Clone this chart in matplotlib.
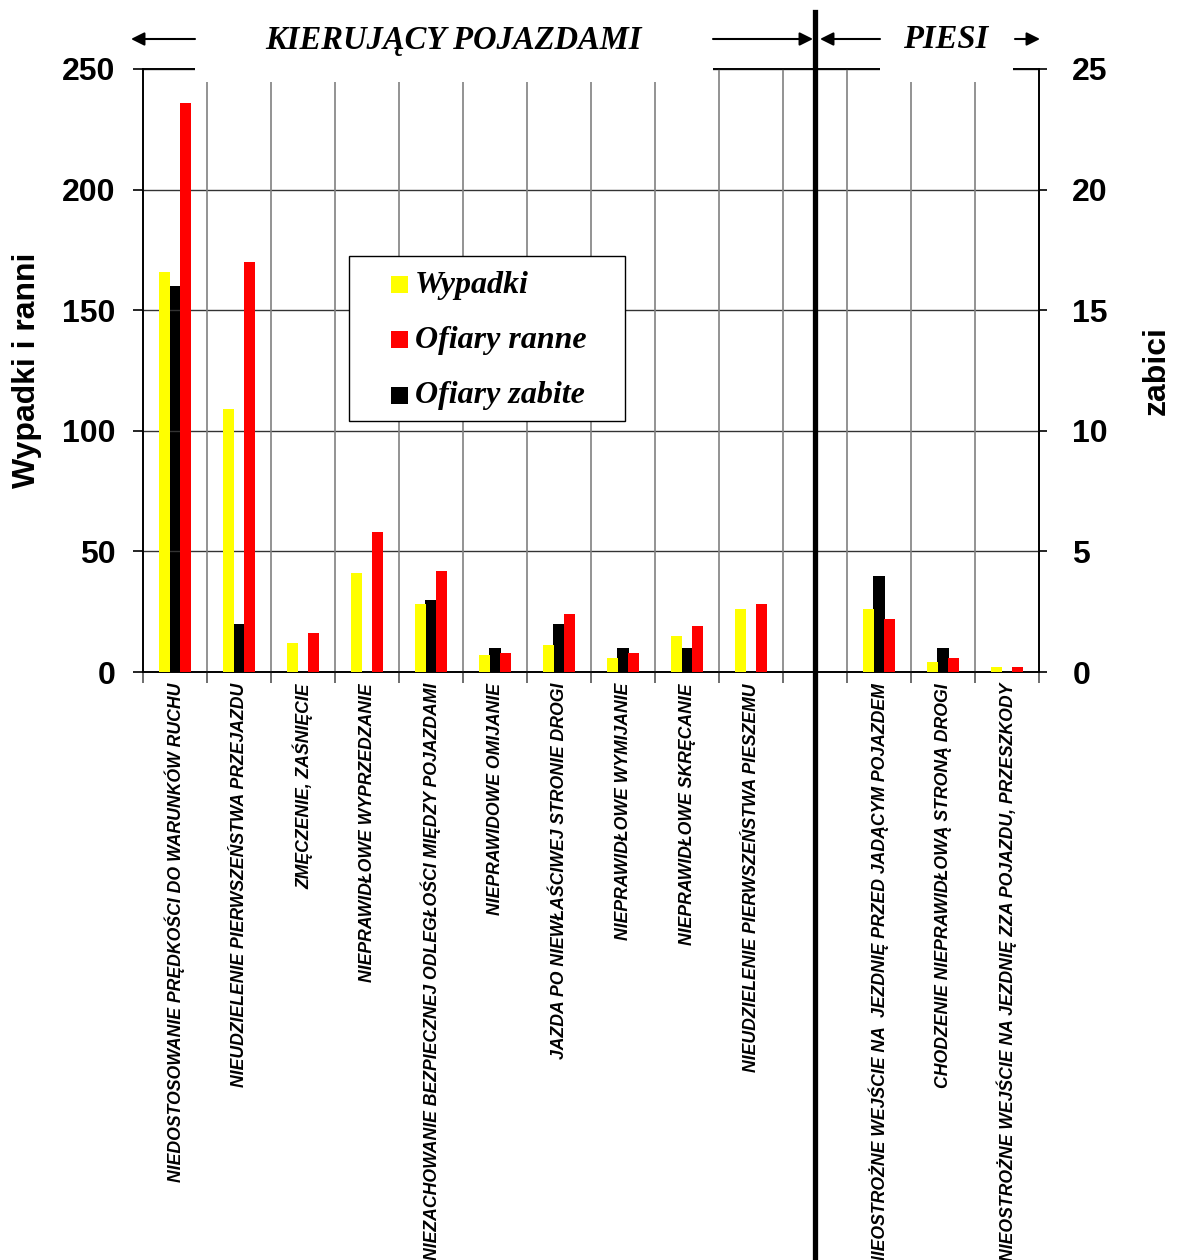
import numpy as np
import matplotlib.pyplot as plt
from matplotlib.patches import Rectangle
from matplotlib.lines import Line2D
from matplotlib import font_manager

# przyczyny wypadków: 10 po stronie kierujących, pusta przerwa, 3 po stronie pieszych
przyczyny = [
    "NIEDOSTOSOWANIE PRĘDKOŚCI DO WARUNKÓW RUCHU",
    "NIEUDZIELENIE PIERWSZEŃSTWA PRZEJAZDU",
    "ZMĘCZENIE, ZAŚNIĘCIE",
    "NIEPRAWIDŁOWE WYPRZEDZANIE",
    "NIEZACHOWANIE BEZPIECZNEJ ODLEGŁOŚCI MIĘDZY POJAZDAMI",
    "NIEPRAWIDOWE OMIJANIE",
    "JAZDA PO NIEWŁAŚCIWEJ STRONIE DROGI",
    "NIEPRAWIDŁOWE WYMIJANIE",
    "NIEPRAWIDŁOWE SKRĘCANIE",
    "NIEUDZIELENIE PIERWSZEŃSTWA PIESZEMU",
    "",
    "NIEOSTROŻNE WEJŚCIE NA  JEZDNIĘ PRZED JADĄCYM POJAZDEM",
    "CHODZENIE NIEPRAWIDŁOWĄ STRONĄ DROGI",
    "NIEOSTROŻNE WEJŚCIE NA JEZDNIĘ ZZA POJAZDU, PRZESZKODY",
]
wypadki = [166, 109, 12, 41, 28, 7, 11, 6, 15, 26, 0, 26, 4, 2]
ranni = [236, 170, 16, 58, 42, 8, 24, 8, 19, 28, 0, 22, 6, 2]
zabici = [16, 2, 0, 0, 3, 1, 2, 1, 1, 0, 0, 4, 1, 0]

serie = ["Wypadki", "Ofiary ranne", "Ofiary zabite"]
kolory = ["#ffff00", "#ff0000", "black"]

lewa_skala = [0, 50, 100, 150, 200, 250]
prawa_skala = [0, 5, 10, 15, 20, 25]

names = {f.name for f in font_manager.fontManager.ttflist}
narrow = "Liberation Sans Narrow" if "Liberation Sans Narrow" in names else "Liberation Sans"

W, H = 1177, 1260
fig = plt.figure(figsize=(W / 100, H / 100), dpi=100)
ax = fig.add_axes([143 / W, 1 - 672 / H, (1039 - 143) / W, (672 - 69) / H])
ax2 = ax.twinx()

x = np.arange(len(przyczyny))
bw = 0.17
ax.bar(x - 0.17, wypadki, bw, color=kolory[0], zorder=3)
ax.bar(x + 0.17, ranni, bw, color=kolory[1], zorder=3)
ax2.bar(x, zabici, 0.185, color=kolory[2], zorder=3)

ax.set_xlim(-0.5, len(przyczyny) - 0.5)
ax.set_ylim(0, 250)
ax2.set_ylim(0, 25)
ax.set_yticks(lewa_skala)
ax2.set_yticks(prawa_skala)

# siatka: poziome linie ciemne, pionowe szare na granicach kategorii
for v in lewa_skala[1:]:
    ax.axhline(v, color="#333333", lw=1.0, zorder=1)
for b in np.arange(0.5, len(przyczyny) - 0.5, 1):
    ax.axvline(b, color="#808080", lw=1.2, zorder=1)

ax.set_xticks(np.arange(-0.5, len(przyczyny), 1))
ax.set_xticklabels([])
ax.set_xticks(x, minor=True)
ax.set_xticklabels(przyczyny, minor=True, rotation=90, ha="center", va="top",
                   fontsize=12.7, fontweight="bold", fontstyle="italic",
                   family=narrow)
ax.tick_params(axis="x", which="minor", length=0, pad=8)
ax.tick_params(axis="x", which="major", length=8, width=1.2, color="#555555")

for a in (ax, ax2):
    for s in a.spines.values():
        s.set_linewidth(1.2)
        s.set_color("black")
ax.tick_params(axis="y", length=7, width=1.2, pad=13)
ax2.tick_params(axis="y", length=6, width=1.2, pad=18)
for lbl in ax.get_yticklabels() + ax2.get_yticklabels():
    lbl.set_fontsize(23)
    lbl.set_fontweight("bold")
    lbl.set_family("Liberation Sans")

ax.set_ylabel("Wypadki i ranni", fontsize=23, fontweight="bold",
              family="Liberation Sans", labelpad=14)
ax2.set_ylabel("zabici", fontsize=23, fontweight="bold",
               family="Liberation Sans", rotation=90, labelpad=24)
ax.set_zorder(ax2.get_zorder() + 1)
ax.patch.set_visible(False)


def px(xp, yp):
    return xp / W, 1 - yp / H


# legenda rysowana ręcznie: ramka, kwadraty i podpisy
fig.add_artist(Rectangle(px(349, 421), (625 - 349) / W, (421 - 256) / H,
                         transform=fig.transFigure, facecolor="white",
                         edgecolor="black", lw=1.0, zorder=10))
for i, (nazwa, kol) in enumerate(zip(serie, kolory)):
    yc = 284 + i * 55.5
    fig.add_artist(Rectangle(px(391, yc + 8.5), 17 / W, 17 / H,
                             transform=fig.transFigure, facecolor=kol,
                             edgecolor="none", zorder=11))
    fig.text(*px(415, yc + 1), nazwa, ha="left", va="center", zorder=11,
             family="Liberation Serif", fontweight="bold", fontstyle="italic",
             fontsize=23)

# nagłówki grup nad wykresem
for x0, x1 in ((195, 713), (880, 1013)):
    fig.add_artist(Rectangle(px(x0, 82), (x1 - x0) / W, 82 / H,
                             transform=fig.transFigure, facecolor="white",
                             edgecolor="none", zorder=5))
hdr = dict(family="Liberation Serif", fontweight="bold", fontstyle="italic",
           fontsize=23.5, va="center", zorder=6)
fig.text(*px(453, 40), "KIERUJĄCY POJAZDAMI", ha="center", **hdr)
fig.text(*px(946, 40), "PIESI", ha="center", **hdr)

for xs, xe in ((195, 131), (713, 813), (880, 820), (1015, 1040)):
    fig.add_artist(plt.Annotation("", xy=px(xe, 39), xytext=px(xs, 39),
                                  xycoords="figure fraction",
                                  arrowprops=dict(arrowstyle="-|>", color="black",
                                                  lw=1.5, mutation_scale=20,
                                                  shrinkA=0, shrinkB=0),
                                  zorder=7))

# gruba linia oddzielająca kierujących od pieszych
fig.add_artist(Line2D([815 / W, 815 / W], [1 - 12 / H, 0], color="black",
                      lw=3.8, transform=fig.transFigure, zorder=8))

fig.savefig("out.png", dpi=100)
